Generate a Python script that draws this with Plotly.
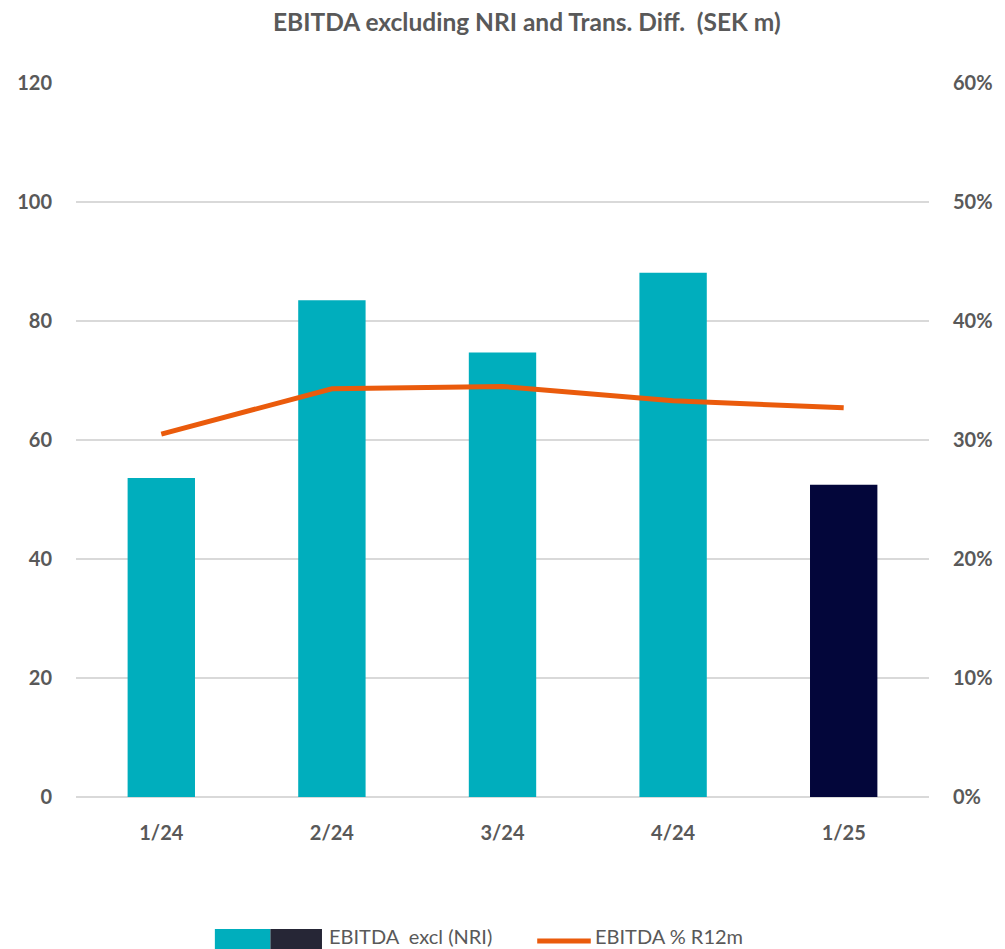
import plotly.graph_objects as go

# Quarterly EBITDA excluding NRI (SEK m) and rolling 12-month EBITDA margin
quarters = ["1/24", "2/24", "3/24", "4/24", "1/25"]
ebitda_excl_nri = [53.6, 83.5, 74.7, 88.1, 52.5]
ebitda_pct_r12m = [0.305, 0.343, 0.345, 0.333, 0.327]

left_ticks = [0, 20, 40, 60, 80, 100, 120]
right_ticks = [0, 0.1, 0.2, 0.3, 0.4, 0.5, 0.6]

TEAL = "#00AEBD"
NAVY = "#03063A"
NAVY_LEGEND = "#262636"
ORANGE = "#EA5B0C"
GREY_TEXT = "#595959"
GRID = "#D9D9D9"
FONT = "Lato"

W, H = 1005, 949
ML, MR, MT, MB = 76, 69, 83, 152
PW, PH = W - ML - MR, H - MT - MB


def px_x(x):
    return (x - ML) / PW


def px_y(y):
    return (H - MB - y) / PH


bar_colors = [TEAL] * (len(quarters) - 1) + [NAVY]

fig = go.Figure()
fig.add_trace(go.Bar(
    x=quarters, y=ebitda_excl_nri, marker=dict(color=bar_colors, line=dict(width=0)),
    name="EBITDA  excl (NRI)", showlegend=False, yaxis="y",
))
fig.add_trace(go.Scatter(
    x=quarters, y=ebitda_pct_r12m, mode="lines",
    line=dict(color=ORANGE, width=5), name="EBITDA % R12m",
    showlegend=False, yaxis="y2",
))

tick_font = dict(family=FONT, size=20, color=GREY_TEXT, weight="bold")

fig.update_layout(
    width=W, height=H,
    margin=dict(l=ML, r=MR, t=MT, b=MB),
    paper_bgcolor="white", plot_bgcolor="white",
    bargap=0.605,
    xaxis=dict(
        type="category", tickfont=tick_font, showgrid=False, showline=False,
        ticks="", ticklabelstandoff=22,
    ),
    yaxis=dict(
        range=[0, 120], tickvals=left_ticks, tickfont=tick_font,
        showgrid=True, gridcolor=GRID, gridwidth=2, zeroline=True,
        zerolinecolor=GRID, zerolinewidth=2, showline=False, ticks="",
        ticklabelstandoff=23,
    ),
    yaxis2=dict(
        range=[0, 0.6], tickvals=right_ticks, tickformat=".0%", tickfont=tick_font,
        overlaying="y", side="right", showgrid=False, zeroline=False,
        showline=False, ticks="", ticklabelstandoff=23,
    ),
    showlegend=False,
)

# Title
fig.add_annotation(
    text="EBITDA excluding NRI and Trans. Diff.  (SEK m)",
    xref="paper", yref="paper", x=px_x(531), y=px_y(21),
    xanchor="center", yanchor="middle", showarrow=False,
    font=dict(family=FONT, size=24.5, color=GREY_TEXT, weight="bold"),
)

# Legend drawn below the plot: two-tone bar swatch and line swatch
legend_y = 936
fig.add_shape(type="rect", xref="paper", yref="paper",
              x0=px_x(216), x1=px_x(272), y0=px_y(929), y1=px_y(952),
              fillcolor=TEAL, line=dict(width=0))
fig.add_shape(type="rect", xref="paper", yref="paper",
              x0=px_x(272), x1=px_x(324), y0=px_y(929), y1=px_y(952),
              fillcolor=NAVY_LEGEND, line=dict(width=0))
fig.add_annotation(
    text="EBITDA  excl (NRI)", xref="paper", yref="paper",
    x=px_x(329), y=px_y(legend_y), xanchor="left", yanchor="middle",
    showarrow=False, font=dict(family=FONT, size=20, color=GREY_TEXT),
)
fig.add_shape(type="line", xref="paper", yref="paper",
              x0=px_x(541), x1=px_x(595), y0=px_y(941), y1=px_y(941),
              line=dict(color=ORANGE, width=5))
fig.add_annotation(
    text="EBITDA % R12m", xref="paper", yref="paper",
    x=px_x(597), y=px_y(legend_y), xanchor="left", yanchor="middle",
    showarrow=False, font=dict(family=FONT, size=20, color=GREY_TEXT),
)

fig.write_html("out.html")
